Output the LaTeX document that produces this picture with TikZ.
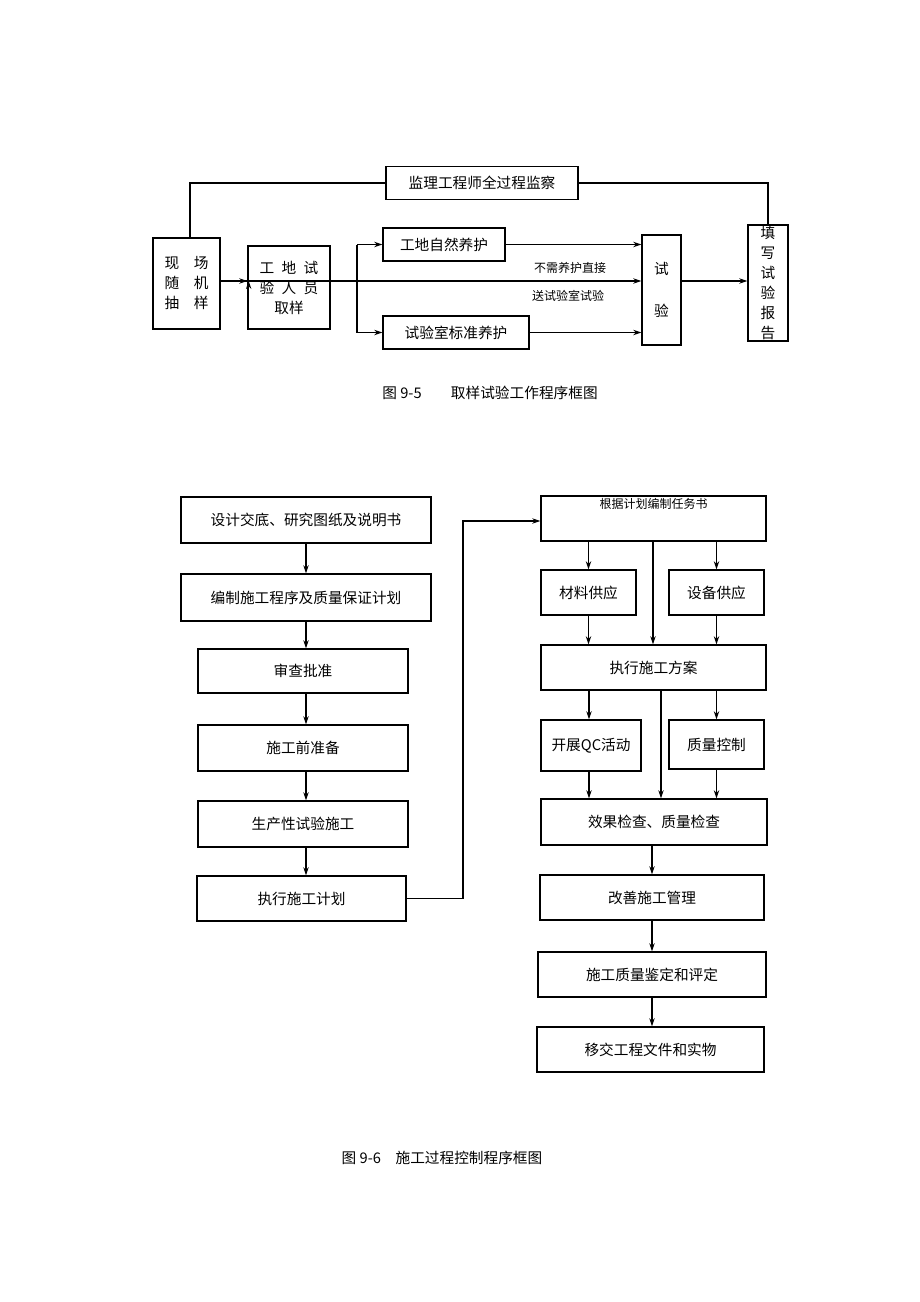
\documentclass[tikz,border=0pt]{standalone}
\usepackage{fontspec}
\setmainfont{Noto Sans CJK SC}
\usetikzlibrary{arrows.meta}
\tikzset{
  box/.style={draw, line width=1pt, inner sep=0pt, align=center, font=\fontsize{11}{15}\selectfont},
  sz/.style 2 args={minimum width=#1*0.75pt, minimum height=#2*0.75pt},
  arr/.style={-{Stealth[length=6pt,width=4pt]}, line width=1pt},
  ln/.style={line width=1pt},
  lbl/.style={font=\fontsize{9}{11}\selectfont}
}
\begin{document}
\begin{tikzpicture}[x=0.75pt,y=-0.75pt]
  \useasboundingbox (0,0) rectangle (920,1302);
  % sampling procedure
  \node[box,sz={192}{33}] (watch) at (482,183) {监理工程师全过程监察};
  \node[box,sz={67}{91}] (site) at (186.5,283.5) {现\quad 场\\随\quad 机\\抽\quad 样};
  \node[box,sz={82}{83}] (take) at (289,287.5) {工\enspace 地\enspace 试\\验\enspace 人\enspace 员\\取样\hspace{3em}};
  \node[box,sz={122}{33}] (cure) at (444,244.5) {工地自然养护};
  \node[box,sz={146}{33}] (lab) at (456,332.5) {试验室标准养护};
  \node[box,sz={39}{110}] (test) at (661.5,290) {试\\[1.5em]验};
  \node[box,sz={40}{116}] (report) at (768,283) {填\\写\\试\\验\\报\\告};
  \coordinate (fork) at (357,281);
  \draw[ln] (site.north -| 190,0) |- (watch.west);
  \draw[ln] (watch.east) -| (report.north);
  \draw[arr] (site.east |- 0,281) -- (take.east |- 0,281) ++(-82,0);
  \draw[arr] (site.east |- 0,281) -- (take.west |- 0,281);
  \draw[arr] (take.east |- 0,281) -- (test.west |- 0,281);
  \draw[ln] (fork |- cure.west) -- (fork |- lab.west);
  \draw[arr] (fork |- cure.west) -- (cure.west);
  \draw[arr] (fork |- lab.west) -- (lab.west);
  \draw[arr] (cure.east) -- (test.west |- cure.east);
  \draw[arr] (lab.east) -- (test.west |- lab.east);
  \draw[arr] (test.east |- 0,281) -- (report.west |- 0,281);
  \node[lbl] (direct) at (570,268) {不需养护直接};
  \node[lbl] (send) at (568,296) {送试验室试验};
  \node[font=\fontsize{11}{13}\selectfont] (cap1) at (490,393) {图 9-5\qquad 取样试验工作程序框图};
  % construction control procedure
  \node[box,sz={250}{46}] (design) at (306,520) {设计交底、研究图纸及说明书};
  \node[box,sz={250}{47}] (plan) at (306,597.5) {编制施工程序及质量保证计划};
  \node[box,sz={210}{44}] (review) at (303,671) {审查批准};
  \node[box,sz={210}{46}] (prep) at (303,748) {施工前准备};
  \node[box,sz={210}{46}] (trial) at (303,824) {生产性试验施工};
  \node[box,sz={209}{45}] (exec) at (301.5,898.5) {执行施工计划};
  \node[box,sz={225}{45},text depth=22pt] (task) at (653.5,518.5) {\fontsize{9}{11}\selectfont 根据计划编制任务书};
  \node[box,sz={95}{45}] (mat) at (588.5,592.5) {材料供应};
  \node[box,sz={95}{45}] (equip) at (716.5,592.5) {设备供应};
  \node[box,sz={225}{45}] (scheme) at (653.5,667.5) {执行施工方案};
  \node[box,sz={100}{51}] (qc) at (591,745.5) {开展QC活动};
  \node[box,sz={95}{49}] (qual) at (716.5,744.5) {质量控制};
  \node[box,sz={226}{46}] (check) at (654,822) {效果检查、质量检查};
  \node[box,sz={224}{45}] (improve) at (652,897.5) {改善施工管理};
  \node[box,sz={228}{45}] (assess) at (652,974.5) {施工质量鉴定和评定};
  \node[box,sz={227}{45}] (handover) at (650.5,1049.5) {移交工程文件和实物};
  \foreach \a/\b in {design/plan,plan/review,review/prep,prep/trial,trial/exec}
    \draw[arr] (\a.south -| 306,0) -- (\b.north -| 306,0);
  \draw[arr] (exec.east) -- (463,898.5) |- (task.west |- 0,521);
  \draw[arr] (task.south -| mat.north) -- (mat.north);
  \draw[arr] (task.south -| equip.north) -- (equip.north);
  \draw[arr] (task.south -| 653,0) -- (scheme.north -| 653,0);
  \draw[arr] (mat.south) -- (scheme.north -| mat.south);
  \draw[arr] (equip.south) -- (scheme.north -| equip.south);
  \draw[arr] (scheme.south -| 589,0) -- (qc.north -| 589,0);
  \draw[arr] (scheme.south -| qual.north) -- (qual.north);
  \draw[arr] (scheme.south -| 661,0) -- (check.north -| 661,0);
  \draw[arr] (qc.south -| 589,0) -- (check.north -| 589,0);
  \draw[arr] (qual.south) -- (check.north -| qual.south);
  \foreach \a/\b in {check/improve,improve/assess,assess/handover}
    \draw[arr] (\a.south -| 652,0) -- (\b.north -| 652,0);
  \node[font=\fontsize{11}{13}\selectfont] (cap2) at (442,1158) {图 9-6\quad 施工过程控制程序框图};
\end{tikzpicture}
\end{document}
